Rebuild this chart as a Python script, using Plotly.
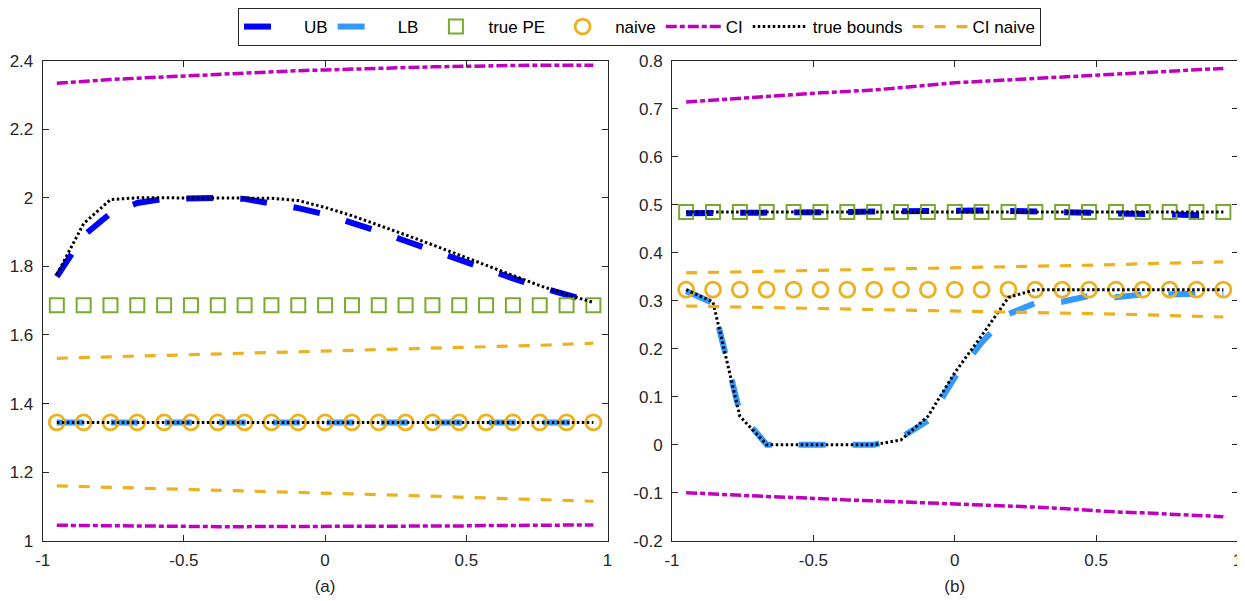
import plotly.graph_objects as go
from plotly.subplots import make_subplots

# ---------------- data ----------------
x = [-0.95, -0.855, -0.76, -0.665, -0.57, -0.475, -0.38, -0.285, -0.19, -0.095, 0.0,
     0.095, 0.19, 0.285, 0.38, 0.475, 0.57, 0.665, 0.76, 0.855, 0.95]

# panel (a)
ub_a = [1.770, 1.890, 1.955, 1.985, 1.997, 2.000, 2.000, 1.997, 1.985, 1.970, 1.952,
        1.928, 1.902, 1.874, 1.846, 1.818, 1.791, 1.765, 1.740, 1.716, 1.695]
lb_a = [1.345] * 21
pe_a = [1.687] * 21
naive_a = [1.345] * 21
ci_up_a = [2.334, 2.340, 2.345, 2.349, 2.353, 2.357, 2.361, 2.365, 2.368, 2.371, 2.373,
           2.376, 2.378, 2.380, 2.382, 2.384, 2.385, 2.386, 2.387, 2.387, 2.387]
ci_lo_a = [1.045, 1.044, 1.043, 1.043, 1.042, 1.042, 1.041, 1.041, 1.041, 1.041, 1.041,
           1.042, 1.042, 1.042, 1.043, 1.043, 1.044, 1.044, 1.045, 1.045, 1.046]
tb_up_a = [1.776, 1.925, 1.995, 2.000, 2.000, 2.000, 2.000, 2.000, 1.999, 1.992, 1.972,
           1.948, 1.921, 1.892, 1.863, 1.833, 1.802, 1.772, 1.744, 1.718, 1.695]
tb_lo_a = [1.345] * 21
cin_up_a = [1.532, 1.534, 1.537, 1.539, 1.541, 1.543, 1.545, 1.547, 1.549, 1.551, 1.553,
            1.555, 1.557, 1.559, 1.561, 1.563, 1.566, 1.568, 1.570, 1.573, 1.576]
cin_lo_a = [1.160, 1.158, 1.156, 1.154, 1.151, 1.149, 1.147, 1.145, 1.143, 1.141, 1.138,
            1.136, 1.134, 1.132, 1.130, 1.127, 1.125, 1.123, 1.121, 1.118, 1.115]

# panel (b)
ub_b = [0.482, 0.482, 0.483, 0.483, 0.484, 0.485, 0.485, 0.486, 0.487, 0.487, 0.488,
        0.488, 0.487, 0.486, 0.485, 0.484, 0.483, 0.482, 0.481, 0.479, 0.477]
lb_b = [0.320, 0.295, 0.066, 0.000, 0.000, 0.000, 0.000, 0.000, 0.015, 0.050, 0.140,
        0.213, 0.272, 0.295, 0.298, 0.310, 0.307, 0.313, 0.313, 0.314, 0.316]
pe_b = [0.485] * 21
naive_b = [0.323] * 21
ci_up_b = [0.714, 0.718, 0.722, 0.726, 0.729, 0.733, 0.736, 0.739, 0.744, 0.749, 0.754,
           0.757, 0.760, 0.763, 0.766, 0.769, 0.772, 0.775, 0.778, 0.781, 0.784]
ci_lo_b = [-0.100, -0.103, -0.106, -0.108, -0.110, -0.113, -0.115, -0.117, -0.119, -0.121, -0.123,
           -0.125, -0.127, -0.130, -0.133, -0.137, -0.140, -0.142, -0.145, -0.147, -0.150]
tb_up_b = [0.485] * 21
tb_lo_b = [0.323, 0.297, 0.059, 0.000, 0.000, 0.000, 0.000, 0.000, 0.010, 0.059, 0.150,
           0.227, 0.307, 0.323, 0.323, 0.323, 0.323, 0.323, 0.323, 0.323, 0.323]
cin_up_b = [0.358, 0.359, 0.360, 0.361, 0.362, 0.363, 0.364, 0.365, 0.366, 0.367, 0.369,
            0.370, 0.371, 0.372, 0.373, 0.374, 0.375, 0.377, 0.378, 0.379, 0.381]
cin_lo_b = [0.289, 0.288, 0.287, 0.286, 0.285, 0.284, 0.283, 0.282, 0.281, 0.280, 0.278,
            0.277, 0.276, 0.275, 0.274, 0.273, 0.272, 0.271, 0.269, 0.268, 0.266]

x_ticks = [-1, -0.5, 0, 0.5, 1]
x_ticktext = ["-1", "-0.5", "0", "0.5", "1"]
y_ticks_a = [1, 1.2, 1.4, 1.6, 1.8, 2, 2.2, 2.4]
y_ticktext_a = ["1", "1.2", "1.4", "1.6", "1.8", "2", "2.2", "2.4"]
y_ticks_b = [-0.2, -0.1, 0, 0.1, 0.2, 0.3, 0.4, 0.5, 0.6, 0.7, 0.8]
y_ticktext_b = ["-0.2", "-0.1", "0", "0.1", "0.2", "0.3", "0.4", "0.5", "0.6", "0.7", "0.8"]
panel_labels = ["(a)", "(b)"]
legend_names = ["UB", "LB", "true PE", "naive", "CI", "true bounds", "CI naive"]

# ---------------- styles ----------------
C_UB = "rgb(0,0,255)"
C_LB = "rgb(51,153,255)"
C_PE = "rgb(119,172,48)"
C_NV = "rgb(237,177,32)"
C_CI = "rgb(191,0,191)"
C_TB = "rgb(0,0,0)"
AX = "#262626"
FONT = "Liberation Sans, Arial, Helvetica, sans-serif"

ST_UB = dict(color=C_UB, width=6, dash="27px,27px")
ST_LB = dict(color=C_LB, width=6, dash="27px,27px")
MK_PE = dict(symbol="square-open", size=14, color=C_PE, line=dict(width=2, color=C_PE))
MK_NV = dict(symbol="circle-open", size=15, color=C_NV, line=dict(width=2.8, color=C_NV))
ST_CI = dict(color=C_CI, width=3.5, dash="11px,3px,5px,3px")
ST_TB = dict(color=C_TB, width=3, dash="2.5px,2.5px")
ST_CIN = dict(color=C_NV, width=3.2, dash="11px,11px")

fig = make_subplots(rows=1, cols=2)


def add_panel(col, ub, lb, pe, nv, ciu, cil, tbu, tbl, cinu, cinl):
    fig.add_trace(go.Scatter(x=x, y=ub, mode="lines", name="UB", line=ST_UB, showlegend=False),
                  row=1, col=col)
    fig.add_trace(go.Scatter(x=x, y=lb, mode="lines", name="LB", line=ST_LB, showlegend=False),
                  row=1, col=col)
    fig.add_trace(go.Scatter(x=x, y=pe, mode="markers", name="true PE", marker=MK_PE, showlegend=False),
                  row=1, col=col)
    fig.add_trace(go.Scatter(x=x, y=nv, mode="markers", name="naive", marker=MK_NV, showlegend=False),
                  row=1, col=col)
    for yy in [ciu, cil]:
        fig.add_trace(go.Scatter(x=x, y=yy, mode="lines", name="CI", line=ST_CI, showlegend=False),
                      row=1, col=col)
    for yy in [tbu, tbl]:
        fig.add_trace(go.Scatter(x=x, y=yy, mode="lines", name="true bounds", line=ST_TB,
                                 showlegend=False), row=1, col=col)
    for yy in [cinu, cinl]:
        fig.add_trace(go.Scatter(x=x, y=yy, mode="lines", name="CI naive", line=ST_CIN,
                                 showlegend=False), row=1, col=col)


add_panel(1, ub_a, lb_a, pe_a, naive_a, ci_up_a, ci_lo_a, tb_up_a, tb_lo_a, cin_up_a, cin_lo_a)
add_panel(2, ub_b, lb_b, pe_b, naive_b, ci_up_b, ci_lo_b, tb_up_b, tb_lo_b, cin_up_b, cin_lo_b)

# legend entries (styled like the MATLAB legend samples, carry no data)
leg_styles = [
    dict(mode="lines", line=dict(color=C_UB, width=6, dash="27px,90px")),
    dict(mode="lines", line=dict(color=C_LB, width=6, dash="27px,90px")),
    dict(mode="markers", marker=MK_PE),
    dict(mode="markers", marker=MK_NV),
    dict(mode="lines", line=ST_CI),
    dict(mode="lines", line=ST_TB),
    dict(mode="lines", line=ST_CIN),
]
for nm, stl in zip(legend_names, leg_styles):
    fig.add_trace(go.Scatter(x=[None], y=[None], name=nm, showlegend=True, **stl), row=1, col=1)

W, H = 1245, 601
OFF = 8  # page offset of the figure inside the browser window
common_x = dict(range=[-1, 1], tickvals=x_ticks, ticktext=x_ticktext, showline=True, mirror="ticks",
                linecolor=AX, linewidth=1, ticks="inside", ticklen=6, tickcolor=AX, showgrid=False,
                zeroline=False, tickfont=dict(size=17, color=AX, family=FONT), ticklabelstandoff=4,
                title_font=dict(size=17, color=AX, family=FONT), title_standoff=11)
common_y = dict(showline=True, mirror="ticks", linecolor=AX, linewidth=1, ticks="inside", ticklen=6,
                tickcolor=AX, showgrid=False, zeroline=False, ticklabelstandoff=5,
                tickfont=dict(size=17, color=AX, family=FONT))

fig.update_xaxes(**common_x)
fig.update_yaxes(**common_y)
fig.update_xaxes(domain=[(42.7 - OFF) / W, (607.5 - OFF) / W], title_text=panel_labels[0], row=1, col=1)
fig.update_xaxes(domain=[(672 - OFF) / W, (1237.5 - OFF) / W], title_text=panel_labels[1], row=1, col=2)
ydom = [1 - (540.7 - OFF) / H, 1 - (60.7 - OFF) / H]
fig.update_yaxes(domain=ydom, range=[1, 2.4], tickvals=y_ticks_a, ticktext=y_ticktext_a, row=1, col=1)
fig.update_yaxes(domain=ydom, range=[-0.2, 0.8], tickvals=y_ticks_b, ticktext=y_ticktext_b, row=1, col=2)

fig.update_layout(
    width=W, height=H,
    margin=dict(l=0, r=0, t=0, b=0, autoexpand=False),
    paper_bgcolor="white", plot_bgcolor="white",
    font=dict(family=FONT, size=17, color="#000000"),
    legend=dict(orientation="h", x=(639.5 - OFF) / W, xanchor="center", y=1.0, yanchor="top",
                bgcolor="white", bordercolor=AX, borderwidth=1,
                font=dict(size=17, family=FONT, color="#000000"),
                itemwidth=55, tracegroupgap=0),
)

fig.write_html("out.html")
